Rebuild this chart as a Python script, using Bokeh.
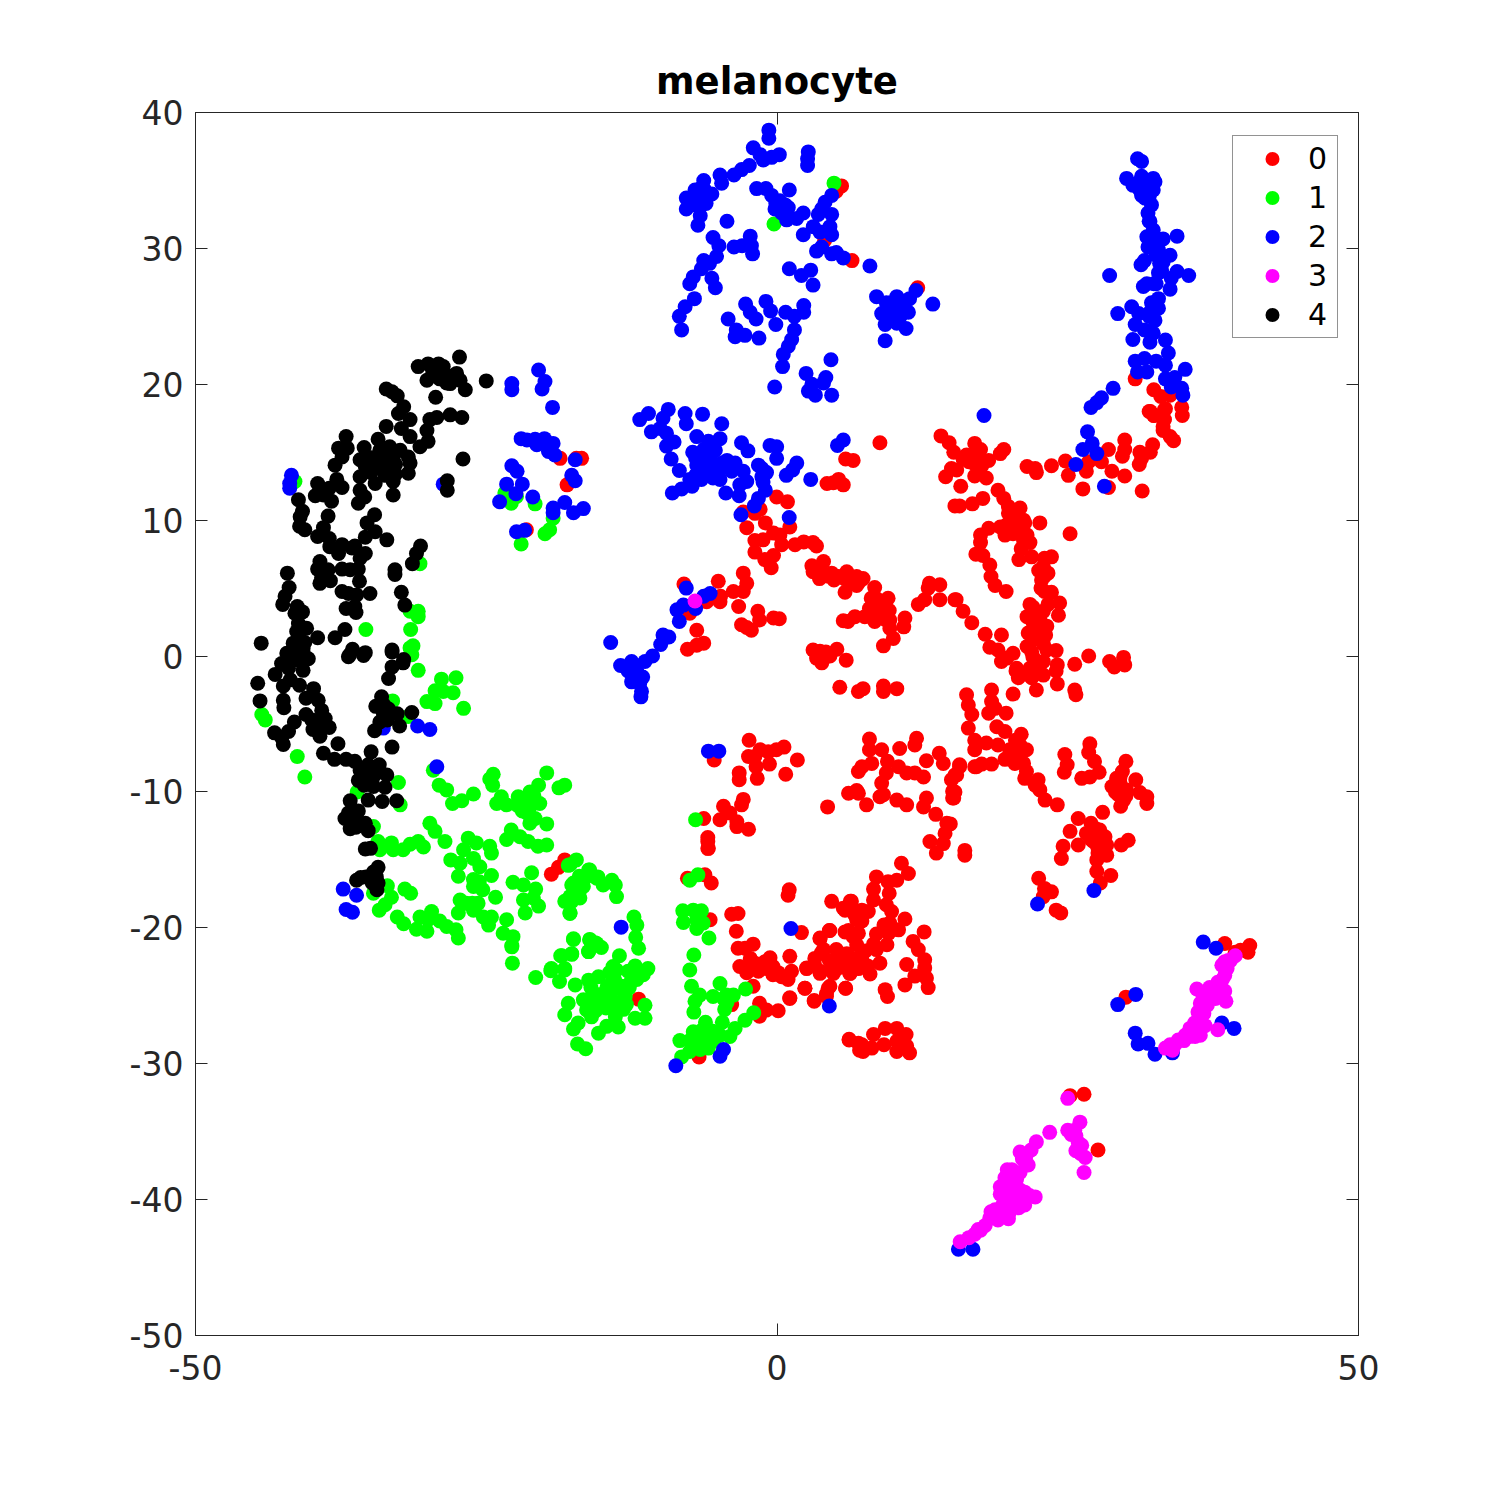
from bokeh.embed import file_html
from bokeh.resources import INLINE
from bokeh.plotting import figure
from bokeh.models import LinearAxis, Legend, LegendItem, Range1d, FixedTicker, Title

title_text = "melanocyte"
x_ticks = [-50, 0, 50]
y_ticks = [-50, -40, -30, -20, -10, 0, 10, 20, 30, 40]
class_names = ["0", "1", "2", "3", "4"]
class_colors = ["#ff0000", "#00ff00", "#0000ff", "#ff00ff", "#000000"]

class_0 = [
(5.55,34.6),(5.1,34.2),(6.45,29.1),(4.1,30.6),(12.1,27.1),
(30.8,20.4),(32.4,19.6),(33,19.1),(33.8,19.2),(34.8,18.3),(34.85,17.7),(32,18),(32.4,17.7),(33.4,18.2),(33.3,17.4),(33.2,16.9),
(14.1,16.2),(14.8,15.7),(15.2,15),(17,15.65),(17.5,15.2),(19.5,15.2),(19.2,14.9),(16.3,14.8),(16.9,14.7),(16,14.5),(18.2,14.4),(16.9,14.2),(15,13.8),(15.45,13.7),(14.5,13.2),(15.8,12.5),(17,13.25),(18,13.1),(15.3,11.05),(15.7,11.05),(16.8,11.2),(17.7,11.6),(19,12.2),(19.5,11.6),(19.9,11),(20.9,10.9),(20.6,10.3),(21.3,9.8),(22.6,9.8),(25.2,9),(18.2,9.4),(17.5,8.9),(19.2,9.5),(19.75,9.65),(19.6,8.9),(20.3,9),(21.5,8.9),(17.5,8.35),(21.75,8.35),(21,7.9),(17.1,7.5),(17.7,7.4),(18.3,6.7),(18.4,5.85),(18.75,5.2),(19.7,4.75),(20.8,7.1),(21.9,7.3),(23,7.2),(23.6,7.3),(22.5,6.3),(23.3,6.1),(22.75,5.6),(23,4.75),(23.6,4.7),(24.3,3.9),(23.3,3.8),(24.2,3),(21.75,3.8),(21.5,2.9),(22.3,3.15),(22.9,3.3),(23.2,2.2),(22,2.5),(21.6,1.7),(23.1,1.55),(22,1.2),(21.5,.7),(22,-.05),(19.3,1.55),(17.9,1.6),(18.3,.65),(19,.45),(20.3,.2),(19.75,-.15),(19.3,-.4),(16,3.3),(15.4,4.15),(16.75,2.45),(23.2,.45),(24,.4),(22.9,-.4),(24.1,-.65),(24,-1.1),(21.75,-.9),(22.9,-1.4),(20.55,-1.1),(20.75,-1.6),(21.9,-1.6),(24.1,-2.05),(22.3,-2.5),(25.6,-2.5),(25.7,-2.85),(20.3,-2.8),(25.6,-.6),(26.8,0),(28.6,-.4),(29,-.8),(29.8,-.1),(29.9,-.65),
(24.8,14.35),(25.05,13.3),(23.6,14),(21.5,13.95),(22.2,13.8),(22.3,13.5),(26.6,13.6),(26.3,12.3),(26.8,14.3),(27.9,14.3),(28.5,15.2),(28.8,13.6),(29.9,13.25),(29.9,15.9),(29.9,15.2),(29.7,14.7),(31.4,12.15),(28.5,12.4),(31.2,15),(31.15,14.1),(31.35,14.55),(32.1,15),(32.3,15.55),(32.1,18),(32.4,17.7),(33.3,18.1),(33.3,17.4),(33.2,16.6),(33.8,16.15),(34.1,15.85),
(8.85,15.7),(5.9,14.5),(6.55,14.4),(4.3,12.7),(4.85,12.75),(5.3,13),(5.7,12.6),(-.03,11.7),(.9,11.35),(-1.45,10.8),(-1.9,10.5),(-2.9,10.6),(1.1,9.5),(-2.6,9.45),(-1,9.8),(-1.9,8.5),(-1.2,8.55),(-.3,9.05),(.25,8.9),(.4,8.2),(-1.9,7.65),(-1.05,7.1),(-.3,7.4),(-.5,6.5),(1.55,8.2),(2.3,8.4),(3.1,8.35),(3.4,8.1),
(3,6.65),(4,6.95),(3.1,6.2),(3.7,6.35),(3.65,5.7),(4.7,6.1),(5.3,5.85),(6,6.2),(5.85,4.7),(6.85,5.85),(7.4,5.7),(6.85,5.2),(8.4,5.05),(9.55,4.25),(8.1,4.25),(8.85,3.9),(7.95,3.5),(9.65,3.35),(5.7,2.6),(6.1,2.55),(6.7,2.9),(7.55,2.9),(8.4,2.55),(9.7,2.65),(9.7,2.05),(10,1.3),(9.15,.75),(11,2.8),(10.9,2.15),
(12.15,3.8),(12.7,4.15),(13.1,5.35),(13,5),(14,5.25),(14,4.15),(15.3,4.15),(3.1,.45),(3.7,.35),(4.3,.2),(5.15,.5),(3.4,-.15),(3.85,-.5),(4.55,0),(5.95,-.3),(5.4,-2.3),(7,-2.6),(7.4,-2.4),(9.15,-2.2),(9.15,-2.6),(10.3,-2.4),
(-5.05,5.5),(-2.9,6.1),(-2.6,5.35),(-3.75,4.75),(-2.9,4.75),(-4.85,4.4),(-4.9,4),(-3.3,3.65),(-6.05,4),(-1.65,3.3),(-1.5,2.65),(-.3,2.8),(.2,2.75),(-3.05,2.3),(-2.6,2.1),(-2.2,1.9),(-6.9,1.9),(-6.3,.95),(-6.9,.8),(-7.7,.5),(-8,5.3),(-7.5,3.15),
(-18.65,14.55),(-17.25,14.55),(-16.8,14.55),(-18.05,12.6),(-21.55,9.3),
(-19.4,-16.05),(-18.8,-15.55),(-18.25,-15),(-11.9,-25.25),
(-5.95,-14.15),(-5.95,-13.65),(-6.2,-16.1),(-5.65,-16.7),(-7.7,-16.35),(-5.75,-19.4),(-3.9,-19),(-3.35,-18.95),(-3.5,-20.25),(1.05,-17.2),(.95,-17.6),(4.7,-18.05),(5.7,-18.55),(6.4,-18.05),(6.7,-19.05),(5.85,-20.3),(4.5,-20.2),(3.7,-20.8),(2.1,-20.35),
(-3.35,-21.5),(-2.05,-21.2),(-2.75,-21.5),(-2.3,-22.25),(-3.2,-22.85),(-2.3,-22.95),(-1.05,-22.5),(-1.6,-23.2),(-.35,-22.85),(-.35,-23.45),(.4,-23.6),(1.1,-22.1),(1.25,-23.2),(.95,-23.8),(-2.05,-24.3),(1.1,-25.2),(2.4,-24.45),(3.2,-25.4),(2.55,-23),(3.25,-22.75),(3.7,-23.35),(3.8,-21.85),(4.85,-23.35),(5.1,-22.6),(6,-22.85),(6.25,-23.35),(4.55,-24.3),(4.25,-24.85),(5.9,-24.45),(-1.5,-25.55),(-.9,-26.05),(.1,-26.1),(-1.5,-26.5),(-3.9,-25.65),(-6.7,-29.5),(6.2,-28.2),(7,-28.5),(7.1,-29),
(-5.4,-7.65),(-2.4,-6.2),(-1.45,-6.9),(-2.45,-7.4),(-1.9,-7.4),(-.75,-7.05),(-.05,-6.9),(.6,-6.7),(1.75,-7.65),(-.65,-7.95),(-1.8,-8.15),(-1.7,-9),(-3.25,-8.6),(-3.25,-9.1),(.75,-8.7),
(-2.9,-10.55),(-3.05,-10.95),(-4.6,-11.05),(-4.05,-11.55),(-4.9,-12.05),(-3.45,-12.2),(-3.45,-12.55),(-2.45,-12.75),(-6.3,-11.95),(-5.95,-13.35),(-5.9,-14.15),
(7.95,-6.1),(7.95,-6.9),(9,-6.9),(10.55,-6.8),(12,-6.05),(11.85,-6.55),(9.5,-7.75),(10.45,-8.15),(8.15,-7.9),(7.3,-8.15),(7,-8.5),(9.4,-8.6),(11.15,-8.6),(11.85,-8.6),(12.6,-8.9),(9,-9.35),(9.15,-10.2),(8.85,-10.35),(10.3,-10.6),(11.15,-10.95),(6.15,-10.1),(7,-10.1),(6.85,-9.9),(7.7,-10.95),(4.35,-11.1),(12.85,-10.45),(12.6,-11.1),(12.85,-7.7),(13.95,-7.15),(14.3,-7.9),(15.7,-8.15),(15.45,-8.75),(15,-9.1),(15.1,-9.95),(15.1,-10.45),(17,-8.15),(13.65,-11.65),(14.6,-12.3),(14.9,-12.35),(14.45,-13.05),(13.15,-13.65),(14.3,-13.8),(13.7,-14.5),(16.15,-14.65),
(10.7,-15.25),(11.3,-16),(8.55,-16.25),(10.3,-16.5),(9.55,-16.6),(8.3,-17.15),(9.65,-17.45),(8.3,-17.95),(6.3,-18.05),(5.85,-18.7),(7.3,-18.7),(7.85,-18.8),(9.4,-18.3),(9.85,-18.8),(6.85,-19.4),(11,-19.35),(9.7,-19.65),(10.45,-20.15),(9.6,-20.4),(8.55,-20.45),(6.15,-20.2),(6.55,-20.65),(12.65,-20.3),(11.7,-21),(9.45,-21.25),(8.55,-21.6),(6.85,-21.25),(12.15,-21.6),(5.1,-21.6),(3.7,-20.75),(4.55,-20.2),(4,-21.6),(3.25,-22.25),(5.7,-22.25),(6.85,-22.25),(7.3,-22.35),(8.85,-22.6),(11.15,-22.7),(12.7,-22.35),(2.55,-22.95),(3.7,-23.2),(5,-23.1),(6.3,-23.35),(8,-23.4),(11.85,-23.55),(12.7,-22.95),(12.85,-23.7),(13,-24.4),(11,-24.2),(5.9,-24.45),(9.3,-24.55),(9.5,-25.05),(4.4,-24.45),(4.25,-25.05),(2.4,-24.45),(3.2,-25.35),(1.1,-25.15),
(6.2,-28.25),(7.3,-28.6),(7.4,-29.1),(8.15,-28.85),(8.3,-27.85),(9.2,-28.6),(9.3,-27.4),(10.3,-27.4),(11.1,-27.85),(10.3,-28.35),(10.3,-29.1),(11.15,-28.7),(11.4,-29.2),
(16.45,-5.3),(17,-6.2),(17,-6.9),(18.9,-5.2),(19.6,-5.55),(18,-6.4),(19,-6.55),(21,-5.75),(20.9,-6.55),(21.45,-6.9),(20.3,-7),(20.9,-7.5),(19.6,-7.6),(20.45,-7.9),(18.45,-7.95),(17.6,-7.95),(17.15,-8.15),(21.45,-8.5),(21.3,-9),(22.45,-9.1),(22.2,-9.5),(22.6,-9.85),(23.05,-10.6),(24.1,-10.95),(15.7,-8),(15.3,-8.75),(15.3,-10),(15.2,-10.45),
(24.75,-7.25),(24.95,-8),(24.7,-8.55),(26.9,-6.45),(26.8,-7.1),(27.3,-7.75),(27.7,-8.55),(26.2,-9),(26.9,-8.9),
(30,-7.75),(29.7,-8.5),(29.2,-9),(30.85,-9.1),(28.8,-9.6),(29.5,-9.35),(30.05,-9.85),(29.35,-10.2),(29.8,-10.6),(29.55,-11.05),(31.2,-10.05),(31.8,-10.35),(31.8,-10.85),
(28,-11.5),(25.9,-11.95),(27,-12.3),(25.2,-12.9),(27.75,-12.8),(26.6,-13.05),(27.2,-13.65),(28.2,-13.3),(30.2,-13.55),(29.6,-13.9),(25.9,-13.9),(24.6,-14),(28.35,-13.9),(27.6,-14.15),(28.35,-14.65),(24.45,-14.9),(27.5,-15),(27.5,-15.85),(28.7,-16.15),(27.8,-16.7),(16.15,-14.3),
(22.5,-16.35),(23,-17.1),(23.6,-17.35),(22.9,-17.7),(24,-18.7),(24.4,-18.9),
(38.5,-21.15),(39.85,-21.65),(40.65,-21.3),(40.5,-21.8),(39.4,-21.8),(30,-25.1),(25.2,-32.35),(26.4,-32.25),(27.6,-36.35),
(16.3,-2.85),(18.45,-2.5),(16.45,-3.6),(18.45,-3.35),(16.75,-4.3),(18.2,-4.2),(19.7,-4.2),(18.75,-3.85),
(-1.9,-22.6),(-2.6,-23.3),(-.9,-23),(-.6,-22.2),(.1,-23.3),(4.5,-22.4),(5.5,-22.9),(6.6,-22.7),(7,-23),(4.7,-23),(6,-21.9),(7.6,-21.7),(7.8,-22.8),(8.3,-21.2),(9.2,-19.8),(7.3,-19.5),(7,-20.4),(22,3.6),(22.6,2.8),(22.4,1.8),(22.9,.9),(21.9,.3),(22.5,-.8),(21.4,-1.3),(20.6,-.9),(20.1,9.8),(19.9,10.5),(20.5,9.6),(21,9.2),(21.2,10),(21.2,8.5),(22.7,5),(23,5.9),(22.9,6.6),(16.5,14.3),(17.3,14.6),(17.6,14),(4.3,5.9),(4.9,5.6),(5.8,5.7),(6.4,5.4),(7,5.4),(8.6,4.2),(8.7,3.3),(9,2.9),(8.2,2.9),(9.3,2.7),(3.6,.2),(4,-.2),(4.2,.3),(29.5,-8.9),(29.8,-9.8),(29.1,-10),(30,-10.3),(29.3,-9.1),(27.4,-12.7),(27.5,-13.3),(27,-13.5),(27.9,-13.6),(27.6,-14.5),(20,-6.9),(20.5,-6.2),(21,-7),(20.6,-7.4),(21.2,-7.9),
]

class_1 = [
(4.9,34.8),(-.26,31.8),(-41.45,12.85),
(-35.35,1.95),(-31.5,1.95),(-31.55,3.3),(-30.85,3.3),(-30.85,2.9),(-31.55,.6),(-31.3,.75),(-30.7,6.8),(-31.4,.1),
(-23.4,12),(-22.85,11.25),(-22.4,11.75),(-20.8,11.2),(-19.25,10.15),(-19.55,9.3),(-19.95,9),(-22,8.25),
(-44,-4.7),(-44.3,-4.3),(-41.25,-7.4),(-40.6,-8.9),(-30.85,-1.05),(-28.85,-1.7),(-27.6,-1.6),(-29.4,-2.55),(-27.85,-2.7),(-30.1,-3.35),(-29.4,-3.5),(-28.7,-2.6),(-26.95,-3.85),(-33.05,-3.3),(-31.7,-4.45),
(-29.55,-8.4),(-29.05,-9.5),(-28.4,-9.85),(-27.9,-10.85),(-27.1,-10.65),(-26.1,-10.15),(-24.4,-8.7),(-24.7,-9.05),(-24.45,-9.5),(-19.8,-8.6),(-20.5,-9.5),(-21.25,-10),(-18.25,-9.5),(-18.75,-9.7),(-23.7,-10.35),(-24.1,-10.85),(-23.25,-10.95),(-22.25,-10.35),(-21.8,-10.85),(-21.1,-10.6),(-20.4,-10.85),(-21.5,-11.55),(-20.8,-11.95),(-21.25,-12.3),(-19.8,-12.35),(-32.55,-9.3),(-36.1,-10),(-32.4,-10.95),(-34.7,-12.55),
(-29.85,-12.3),(-29.4,-12.9),(-28.55,-13.65),(-34.3,-13.65),(-34.15,-14.25),(-33.15,-13.75),(-33,-14.25),(-32.15,-14.25),(-31.55,-13.85),(-30.85,-13.65),(-30.4,-14.05),(-22.85,-12.8),(-23.25,-13.5),(-22.1,-13.3),(-21.4,-13.65),(-20.55,-14),(-19.8,-13.9),(-26.55,-13.4),(-25.85,-13.75),(-26.95,-14.25),(-24.7,-14),(-24.55,-14.5),(-28.05,-15),(-27.25,-15.25),(-26.1,-14.9),(-27.4,-16.2),(-25.55,-15.5),(-24.55,-16.15),(-26.1,-16.45),(-26.1,-16.95),(-25.3,-17.2),(-24.2,-17.75),(-27.25,-17.95),(-27.4,-18.9),(-26.7,-18.2),(-25.7,-18.2),(-26.1,-18.7),(-25.25,-19.2),(-24.55,-19.2),(-24.8,-19.8),(-23.25,-19.4),(-23.55,-20.4),(-22.7,-20.65),(-22.8,-21.3),(-22.75,-22.6),
(-22.7,-16.65),(-21.1,-15.95),(-21.8,-16.85),(-20.75,-17.15),(-21.8,-17.95),(-20.95,-17.8),(-20.5,-18.4),(-21.65,-18.9),
(-33.5,-16.9),(-32,-17.15),(-31.5,-17.45),(-34.7,-17.45),(-33.15,-17.75),(-33.7,-18.3),(-34.2,-18.7),(-32.65,-19.2),(-32.1,-19.7),(-31,-20.1),(-30.7,-19.2),(-29.7,-18.8),(-30,-19.4),(-30.1,-20.25),(-29,-19.5),(-28.4,-19.9),(-27.6,-20.15),(-27.4,-20.75),
(-17.5,-20.85),(-18.5,-22.05),(-17.65,-21.9),(-16.1,-20.85),(-16.2,-21.75),(-15.5,-21.15),(-19.4,-23),(-18.25,-23),
(-17.8,-15.35),(-17.25,-15),(-16.1,-15.75),(-16.4,-16.25),(-17.5,-16.7),(-15.4,-16.25),(-17.25,-17.2),(-17.8,-17.7),(-18.25,-18.05),(-16.95,-17.8),(-17.8,-18.9),
(-20.75,-23.65),(-19.45,-23.15),(-22.8,-21.4),(-17.95,-15.4),(-16.2,-15.75),(-15.5,-16.35),(-14.2,-16.5),(-13.9,-16.85),(-14.95,-16.85),(-13.8,-17.7),(-17.65,-16.85),(-16.65,-16.95),(-17.4,-17.6),(-17.65,-18.05),(-17.8,-18.95),
(-12.3,-19.2),(-12.05,-19.8),(-12.15,-20.7),(-11.9,-21.5),
(-17.5,-20.8),(-16.1,-20.9),(-15.65,-21.1),(-15.1,-21.45),(-16.2,-21.75),(-17.65,-21.95),(-18.6,-22.05),(-13.55,-22.05),(-14.1,-22.85),(-18.25,-23.1),(-12.2,-22.8),(-12.8,-23.2),(-11.1,-23),(-11.5,-23.45),(-12.05,-23.8),(-18.7,-23.95),(-17.35,-24.2),(-16.2,-23.85),(-15.35,-23.6),(-13.95,-23.85),(-13.35,-24.3),(-15.65,-24.95),(-14.35,-25.05),(-17.95,-25.55),(-16.65,-25.3),(-13.05,-25.05),(-18.25,-26.4),(-16.37,-26.05),(-15.2,-25.8),(-13.8,-25.55),(-12.95,-25.65),(-11.35,-25.7),(-11.35,-26.65),(-12.2,-26.65),(-15.95,-26.55),(-17.1,-27),(-17.5,-27.45),(-14.65,-27.25),(-13.65,-27.3),(-15.35,-27.75),(-13.9,-26.55),(-17.15,-28.55),(-16.45,-28.9),
(-6.8,-16.1),(-7.5,-16.5),(-8.1,-18.75),(-7.2,-18.7),(-6.5,-18.75),(-8.05,-19.6),(-6.9,-19.4),(-6.9,-20.05),(-6.35,-19.65),(-5.85,-20.75),(-7.15,-22),(-7.5,-23.1),(-7.35,-24.3),(-6.65,-24.95),(-7.05,-25.4),(-7.15,-26.2),(-4.9,-24.1),(-5.5,-25.05),(-4.35,-24.95),(-3.75,-24.95),(-4.5,-26),(-2.7,-24.5),
(-6.15,-26.95),(-4.7,-26.95),(-7.2,-27.65),(-8.35,-28.3),(-6.9,-28.25),(-6.05,-28),(-4.9,-27.9),(-4.05,-28),(-3.6,-27.4),(-2.75,-26.8),(-2,-26.25),(-7.5,-29.1),(-6.6,-28.95),(-5.9,-28.85),(-8.2,-29.5),(-7,-12.05),
(-14,-24.5),(-14.6,-24.3),(-14.9,-25.1),(-13.5,-25.6),(-13.2,-24.7),(-14,-26),(-14.7,-25.9),(-15.2,-24.9),(-16,-24.4),(-16,-25.2),(-15.6,-26.1),(-13.2,-26),(-12.7,-24.4),(-14.4,-23.3),(-13.8,-23.1),(-12.6,-24),(-21.3,-11.2),(-21.9,-11.4),(-22.3,-11),(-20.9,-10.3),(-4.3,-25.5),(-4.6,-25.2),(-5.6,-27.6),(-5.4,-28.3),(-6.4,-27.5),(-7.5,-28.3),(-7,-28.8),(-6.3,-28.5),(-25.6,-16.6),(-26.2,-18.2),(-17,-16.2),(-17.2,-17),(-17,-17.3),
]

class_2 = [
(-.7,38.7),(-.7,38.1),(-2.04,37.4),(-1.46,36.9),(-1.18,36.5),(-.46,36.7),(.2,36.9),(2.69,37.1),(2.63,36.6),(2.63,36.1),(-2.38,36.1),(-3.04,35.8),(-3.7,35.4),(-4.9,35.4),(-4.76,34.8),(-6.3,35),(-7.05,34.3),(-6.3,34.4),(-5.6,34),(-7.8,33.7),(-7.2,33.6),(-6.5,33.7),(-6.05,33.8),(-7.8,32.9),(-6.6,33.1),(-6.6,32.4),(-6.8,31.7),(-4.3,32),
(-1.75,34.4),(-.95,34.4),(-.46,33.9),(1.06,34.3),(.25,33.5),(-.17,32.9),(.97,33),(.4,32.6),(.83,32.1),(1.69,32.2),(2.26,32.6),
(4.7,33.9),(4.13,33.4),(3.84,32.9),(3.55,32.5),(4.7,32.5),(4.55,31.6),(3.12,31.6),(2.26,31),(3.7,31.2),(4.7,31),(3.4,29.8),(3.84,30.1),(4.7,29.6),(5.1,29.7),(5.7,29.3),(7.99,28.7),
(8.56,26.45),(10.3,26.45),(11.95,26.9),(11.4,26.3),(9.4,26),(10,25.7),(10.85,25.8),(9,25.2),(9.7,25),(10.6,25),(11.3,25.3),(9.3,24.4),(11.1,24.1),(9.3,23.2),(13.4,25.9),
(-5.5,30.8),(-5,30.2),(-5.2,29.4),(-6.3,29.1),(-6.5,28.5),(-5.8,28.9),(-7.2,27.9),(-7.5,27.4),(-5.6,27.8),(-5.3,27.1),
(-3.7,30.1),(-3,30.2),(-2.3,30.9),(-2.2,30.2),(-2.1,29.6),(1.06,28.5),(2.1,28),(2.9,28.4),(3.1,27.3),
(-7.1,26.3),(-7.9,25.7),(-8.4,25),(-8.2,24),(-4.2,24.8),(-2.7,25.9),(-2.3,25.3),(-1.8,24.8),(-.95,26.1),(-.55,25.4),(-.1,24.4),(-3.5,24),(-3.6,23.5),(-2.75,23.6),(-1.55,23.4),
(.74,25.3),(1.5,25),(2.3,25.8),(2.3,25.3),(1.5,24),(1.26,23.3),(.97,22.8),(.54,22.2),(.48,21.3),(-.2,19.8),(4.64,21.8),(2.5,20.8),(4.2,20.5),(4,20.1),(3,20),(2.7,19.5),(3.3,19.2),(4.7,19.2),
(31,36.6),(31.35,36.4),(30.06,35.15),(31.35,35.3),(32.35,35.15),(30.6,34.65),(31.8,34.65),(32.5,34.9),(32.35,34.3),(31.35,33.9),(31.65,33.7),(32.2,33.2),(31.9,32.6),(32.07,32),(32.35,31.35),(31.8,30.85),(33.2,30.7),(34.4,30.9),(32.5,30.5),(31.9,30.1),(32.8,29.9),(33.8,29.5),(31.6,29.1),(31.3,28.8),(33.2,29),(33.07,28.4),(34.4,28.3),(35.4,28),(33.9,27.8),(28.6,28),(32.8,28.2),
(31.8,27.4),(31.5,27.2),(32.6,27.4),(33.8,27),(32.8,26.3),(32.2,26),(30.5,25.7),(32.8,25.6),(29.3,25.2),(31.1,25.2),(32.07,25.3),(32.5,24.7),(30.8,24.4),(31.6,24),(32.35,23.75),(30.6,23.3),(32.07,23.1),(33.4,23.25),(33.65,22.3),(31.6,21.9),(30.8,21.7),(32.6,21.7),(33.4,21.4),(31,20.9),(31.8,20.9),(35.1,21.1),(33.4,20.4),(34.2,20.5),(33.9,19.8),(34.8,19.7),(34.9,19.2),
(28.9,19.7),(27.9,19),(27.5,18.65),(27,18.3),(26.7,16.5),(17.8,17.7),(26.3,15.2),(27.1,15.65),(27.5,14.9),(25.7,14.1),(28.15,12.5),
(-11.8,17.4),(-11.05,17.85),(-9.35,18.15),(-9.8,17.5),(-7.9,17.85),(-7.8,17.1),(-6.4,17.8),(-4.75,17.1),(-10.8,16.5),(-10.05,16.75),(-9.5,16.4),(-8.85,15.75),(-9.5,15.45),(-6.9,16.15),(-5.9,15.8),(-4.9,16),(-5.3,15.15),(-3.05,15.7),(-2.5,15.1),(-.6,15.5),(-.03,15.4),(-.03,14.55),(-9.1,14.5),(-7.25,15),(-8.4,13.65),(-6.6,14.7),(-5.9,14.7),(-6.9,14.05),(-6.05,13.8),(-4.3,14.4),(-3.6,14.2),(-4.9,13.8),(-3.9,13.6),(-2.9,13.6),(-1.6,14.05),(-.9,13.5),(-1.2,12.8),(-7.5,13),(-6.5,13),(-5.5,13.1),(-4.9,13),(-2.6,12.85),(-3.2,12.6),(-8.2,12.3),(-7.3,12.5),(-9,12),(-4.4,12),(-3.25,11.8),(-1,12.2),(-1.6,11.6),(-1.95,11.05),(-3.1,10.4),(.8,13.3),(1.7,14.2),(1.35,13.7),(2.9,13),(1.05,10.2),(5.7,15.9),(5.2,15.5),
(-7.8,5),(-5.75,4.6),(-6.3,4.4),(-7,3.5),(-8.6,3.4),(-8.05,3.75),(-8.4,2.55),(-9.8,1.55),(-9.3,1.4),(-10,.85),(-10.7,0),(-11.35,-.4),(-14.3,1),(-13.45,-.7),(-12.5,-.4),(-12.8,-1.1),(-12.05,-1.1),(-11.55,-1.55),(-12.5,-1.9),(-11.8,-2),(-11.65,-2.6),(-11.7,-3),
(-41.75,13.3),(-41.9,12.7),(-41.9,12.35),(-28.7,12.65),
(-22.8,20.05),(-22.8,19.6),(-20.5,21.05),(-19.95,20.2),(-20.2,19.65),(-19.3,18.3),(-22,16),(-21.5,15.9),(-20.8,15.95),(-20.65,15.55),(-20,16),(-19.5,15.6),(-19.25,15.65),(-19.65,15.05),(-19.1,14.8),(-17.35,14.45),(-22.8,14),(-22.35,13.6),(-23.25,12.65),(-21.9,12.65),(-22.45,11.95),(-21,11.7),(-23.85,11.35),(-17.65,13.3),(-17.35,12.9),(-19.25,10.9),(-18.25,11.3),(-17.5,10.55),(-16.65,10.85),(-19.25,10.55),(-22.4,9.15),(-21.7,9.25),
(-37.3,-17.15),(-36.15,-17.6),(-37.05,-18.65),(-36.5,-18.85),(-30.9,-5.15),(-29.85,-5.4),(-29.25,-8.15),(-33.85,-5.3),
(-13.4,-19.95),(-8.7,-30.15),(-4.9,-29.45),(-4.6,-28.95),(1.2,-20.05),(4.5,-25.75),(-5.9,-7),(-5,-7),
(22.4,-18.25),(27.25,-17.25),(36.65,-21.05),(37.75,-21.5),(38.25,-27),(39.3,-27.4),(30.8,-27.75),(31.05,-28.55),(31.9,-28.5),(32.5,-29.3),(34,-29.2),(29.3,-25.65),(30.85,-24.9),(15.6,-43.65),(16.85,-43.65),
(-6.4,14.5),(-6.2,14),(-5.7,14.2),(-6.8,13.5),(-6,13.3),(-5.2,13.6),(-5.6,14.9),(-6.3,15.2),(-7,14.6),(-7,13.3),(-4.7,14.2),(-1.3,13.2),(-1.3,13.8),(9.8,26),(10.2,25.2),(10.3,26),(9.6,25.4),(10.8,25.4),(10,24.7),(10.3,24.5),(31,34.8),(31.6,34.9),(31.8,34.1),(31.2,34.3),(32,33.8),(32,32),(32.2,31),(32.4,30.2),(32.6,29.5),(32.9,28.9),(32.4,27.4),(32.5,26),(32,25),(-6.8,33.9),(-6.6,34.4),(-7,33.2),(-6.1,33.3),(-.1,33.3),(.5,33),(.7,33.2),(-12.6,-.9),(-12.2,-.8),(-12.1,-1.6),(-12.4,-1.5),
]

class_3 = [
(-7.05,4.05),
(39.4,-22.05),(38.8,-22.4),(38.25,-22.75),(38.5,-23.5),(38.1,-24),(37.9,-24.65),(36.1,-24.5),(37.05,-25),(38.5,-24.65),(38.6,-25.4),(36.4,-25.55),(37,-25.7),(36.2,-26.2),(36.7,-26.3),(37.9,-27.5),(36.2,-26.95),(35.5,-27.4),(36.3,-27.5),(35.1,-27.9),(35.95,-28),(36.4,-27.9),(34.5,-28.25),(33.4,-28.85),(34,-29),
(25,-32.55),(23.45,-35.05),(26.05,-34.3),(25,-34.9),(25.7,-35.3),(26.2,-36),(26.5,-36.9),(26.4,-38),(22.3,-35.75),(21.85,-36.35),(20.9,-36.5),(21.6,-37.45),(20.9,-38),(20.2,-37.8),(19.6,-38.4),(19.2,-39.05),(20,-38.9),(20.9,-39.3),(21.3,-39.45),(22.2,-39.8),(21.3,-40.4),(20.2,-40),(19.6,-40.4),(20,-40.9),(18.75,-40.75),(18.3,-41.35),(19.4,-41.1),(17.9,-41.9),(17.5,-42.25),(17,-42.55),(15.75,-43.1),
(38.7,-23),(38.3,-23.8),(38.5,-22.5),(39,-22.4),(37.9,-24),(37.4,-24.9),(37.7,-25.2),(36.6,-24.9),(37.2,-24.4),(38,-25),(36.8,-27.2),(35.9,-27),(36.5,-27.1),(35.5,-28),(35,-28.3),(34.2,-28.6),(33.8,-28.6),(25.3,-35.2),(25.6,-34.9),(25.9,-35.8),(25.7,-36.4),(26.1,-36.6),(20,-39.4),(20.5,-39.3),(20.1,-39.9),(19.8,-39.6),(20.6,-40),(20.6,-38.5),(20.4,-38.3),(19.8,-37.8),(19.2,-39.6),(19.4,-40.4),(20.8,-40.6),(18.7,-41.2),(17.3,-42.2),(16.5,-42.8),(18.4,-40.9),(19,-41.5),(19.9,-41.4),(21.7,-39.7),(21.1,-37),(21.4,-36.8),
]

class_4 = [
(-27.3,22),(-30.85,21.3),(-30,21.5),(-29.1,21.5),(-28.7,21.3),(-27.55,20.8),(-30.1,20.3),(-29,20.4),(-28.1,20.05),(-27.25,20.3),(-26.8,19.6),(-25,20.25),(-29.35,19.05),(-33.6,19.65),(-33.1,19.45),(-32.65,19.15),(-32.1,18.35),(-32.55,17.85),(-31.55,17.4),(-33.6,16.9),(-32.3,16.75),(-27.1,17.55),(-28.1,17.75),(-29.25,17.55),(-29.85,17.4),(-30.1,16.6),(-31.55,16.15),(-30,15.8),(-30.7,15.4),(-34.3,15.95),(-37.05,16.15),(-37.7,15.3),(-36.95,15.3),(-35.5,15.35),(-37.4,14.65),(-38,14.05),(-34.15,15.15),(-33.3,15.4),(-32.4,15.15),(-33.55,14.65),(-35.85,14.45),(-31.7,14.65),(-31.55,14.2),(-35.4,13.95),(-34.4,13.95),(-33.3,13.95),(-31.7,13.45),(-35.85,13.2),(-33.7,13.3),(-34.55,12.7),(-33,12.85),(-35.85,12.2),(-35.45,11.7),(-33,11.85),(-36,11.25),(-37.85,13),(-39.5,12.7),(-37.4,12.4),(-38.5,12.35),(-39.7,11.8),(-39,11.85),(-38.3,11.4),(-41.15,11.5),(-40.8,10.65),(-41,10.25),(-41.05,9.55),(-40.6,9.3),(-27,14.5),(-28.35,12.9),(-28.35,12.2),
(-38.6,10.3),(-39,9.45),(-39.5,8.8),(-38.5,8.65),(-38.45,8.05),(-37.4,8.2),(-37.7,7.55),(-36.55,7.95),(-36.3,8.1),(-34.6,10.4),(-35.25,9.8),(-34.55,9.15),(-35.4,8.75),(-33.55,8.55),(-35.4,7.55),(-35.85,7.2),(-30.65,8.1),(-31,7.55),(-31.35,6.8),(-32.85,6.35),(-32.85,6),
(-39.3,6.95),(-39.5,6.4),(-38.6,6.35),(-37.4,6.4),(-36.7,6.35),(-36,6.4),(-39.15,5.8),(-39.3,5.35),(-38.4,5.55),(-35.9,5.5),(-37.4,4.75),(-36.85,4.6),(-36.15,4.5),(-35,4.6),(-37.05,3.5),(-36.3,3.65),(-36.2,3.2),(-32.3,4.7),(-32,3.75),
(-42.1,6.1),(-41.95,5.05),(-42.3,4.4),(-42.5,3.8),(-41.25,3.65),(-41.45,3.15),(-40.8,3.25),(-41.15,2.4),(-40.45,2.05),(-41.3,1.8),(-39.5,1.35),(-37.15,1.95),(-38,1.35),(-44.35,.95),(-41.6,.95),(-40.75,.55),(-36.5,.5),(-35.4,.25),(-36.75,.1),(-33.1,.45),(-32.1,-.25),
(-42.15,.2),(-40.75,.3),(-36.85,-.05),(-35.55,.05),(-33.1,.3),(-42.6,-.55),(-41.15,-.3),(-43.15,-1.35),(-40.75,-1.05),(-41.85,-1.75),(-42.45,-2.2),(-41.05,-2.15),(-44.65,-2),(-44.45,-3.3),(-42.45,-3.25),(-42.4,-3.8),(-39.85,-2.4),(-40.5,-3.1),(-39.45,-3.25),(-39.15,-4),(-38.85,-4.6),(-40,-4.7),(-38.5,-5.25),(-39.9,-5.4),(-39.3,-5.9),(-41.5,-4.85),(-43.2,-5.65),(-42,-5.55),(-42.6,-6),(-42.45,-6.5),
(-32.15,-.5),(-33.1,-.8),(-33.4,-1.65),(-34,-3),(-34.5,-3.7),(-33.4,-3.9),(-33.85,-4.2),(-32.65,-4.25),(-31.4,-4.15),(-34.15,-4.85),(-32.45,-5.15),(-34.6,-5.5),(-33.1,-6.7),(-34.9,-7.05),(-37.75,-6.45),(-39,-7.15),(-38.05,-7.6),(-37.05,-7.6),(-36.3,-7.75),(-35.15,-8),(-34.2,-8),(-35.85,-8.4),(-33.55,-8.75),(-34.7,-8.6),(-36,-9.15),(-34.7,-9.6),(-33.7,-9.65),(-35.15,-10.6),(-33.95,-10.7),(-32.7,-10.65),(-36.7,-10.65),(-36.85,-11.55),(-37.15,-11.95),(-36.3,-11.95),(-35.85,-12.3),(-36.7,-12.7),(-35.15,-12.85),(-35.4,-14.2),(-34.95,-14.15),(-34.3,-15.55),(-36.15,-16.5),(-35.35,-16.25),(-34.45,-16.25),(-34.4,-17.2),
(-33.8,14.4),(-34.2,14.5),(-33.4,14.3),(-33,14.6),(-32.8,14.1),(-32.8,13.4),(-33.6,13.4),(-34.9,13.5),(-34.9,14.6),(-29.1,20.9),(-28.5,20.7),(-29.6,20.9),(-28.4,20.1),(-27.9,20.6),(-41,1.1),(-41.3,.5),(-40.6,1),(-41.2,-.1),(-41.7,.3),(-40.3,-.2),(-41.1,1.4),(-42,-.9),(-41.8,-.3),(-35.4,-8.8),(-34.8,-9.1),(-34.4,-8.6),(-35.5,-9.5),(-36.5,-11.5),(-36,-11.4),(-35.4,-12.3),(-36.2,-12.6),(-34.8,-16.7),(-34.7,-15.9),(-35.8,-16.3),(-34.3,-16.7),(-33.8,-3.6),(-33.5,-4.7),(-40.5,-4.3),(-39.4,-5),
]

p = figure(output_backend="svg", toolbar_location=None,
           x_range=Range1d(-50, 50), y_range=Range1d(-50, 40),
           frame_width=1163, frame_height=1223,
           min_border_left=195, min_border_right=130, min_border_top=112, min_border_bottom=150,
           background_fill_color="white", border_fill_color="white",
           outline_line_color="#262626", outline_line_width=1)

p.grid.visible = False
p.title = Title(text=title_text, align="center", text_font="DejaVu Sans", text_font_size="37px",
                text_font_style="bold", text_color="#000000", standoff=19)

def style(axis, ticks, show_labels):
    axis.ticker = FixedTicker(ticks=ticks)
    axis.major_tick_in = 12
    axis.major_tick_out = 0
    axis.minor_tick_line_color = None
    axis.major_tick_line_color = "#262626"
    axis.axis_line_color = "#262626"
    axis.major_label_text_font = "DejaVu Sans"
    axis.major_label_text_color = "#262626"
    if show_labels:
        axis.major_label_overrides = {t: str(t) for t in ticks}
        axis.major_label_text_font_size = "33px"
        axis.major_label_standoff = 12
    else:
        axis.major_label_overrides = {t: "" for t in ticks}
        axis.major_label_text_color = None
        axis.major_label_text_font_size = "1px"
        axis.major_label_standoff = 0

style(p.xaxis[0], x_ticks, True)
p.xaxis[0].major_label_standoff = 19
style(p.yaxis[0], y_ticks, True)
top = LinearAxis(); style(top, x_ticks, False); p.add_layout(top, "above")
right = LinearAxis(); style(right, y_ticks, False); p.add_layout(right, "right")

items = []
for name, color, pts in zip(class_names, class_colors, [class_0, class_1, class_2, class_3, class_4]):
    r = p.scatter([a for a, b in pts], [b for a, b in pts], size=15, color=color, line_color=None, fill_color=color)
    items.append(LegendItem(label=name, renderers=[r]))

legend = Legend(items=items, location=(1037, 997), padding=5, margin=0, spacing=4,
                glyph_width=68, glyph_height=35, label_height=20, label_width=24, label_standoff=2,
                label_text_font="DejaVu Sans", label_text_font_size="30px", label_text_color="#000000",
                border_line_color="#262626", border_line_width=1, background_fill_alpha=1,
                background_fill_color="white")
p.add_layout(legend, "center")

open("out.html", "w").write(file_html(p, INLINE))
